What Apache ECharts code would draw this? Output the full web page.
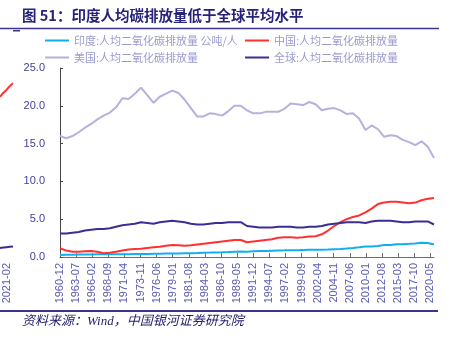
<!DOCTYPE html>
<html>
<head>
<meta charset="utf-8">
<script src="https://cdn.jsdelivr.net/npm/echarts@6/dist/echarts.min.js"></script>
<style>
html, body { margin: 0; padding: 0; background: #ffffff; }
#chart { width: 452px; height: 338px; }
</style>
</head>
<body>
<div id="chart"></div>
<script>
// Yearly per-capita CO2 emissions (tonnes per person), December of each year 1960-2020
const years = [];
for (let y = 1960; y <= 2020; y++) years.push(y);

const india = [0.27, 0.29, 0.31, 0.32, 0.32, 0.34, 0.35, 0.35, 0.37, 0.37,
  0.38, 0.38, 0.39, 0.39, 0.40, 0.42, 0.44, 0.45, 0.45, 0.47,
  0.49, 0.51, 0.53, 0.56, 0.58, 0.61, 0.63, 0.66, 0.70, 0.73,
  0.71, 0.75, 0.78, 0.79, 0.83, 0.87, 0.88, 0.90, 0.90, 0.94,
  0.95, 0.95, 0.96, 0.99, 1.03, 1.07, 1.13, 1.20, 1.28, 1.38,
  1.40, 1.46, 1.58, 1.60, 1.70, 1.70, 1.74, 1.80, 1.89, 1.86,
  1.65];

const china = [1.15, 0.85, 0.70, 0.70, 0.75, 0.80, 0.70, 0.50, 0.55, 0.70,
  0.85, 1.00, 1.05, 1.10, 1.20, 1.30, 1.35, 1.50, 1.60, 1.55,
  1.50, 1.55, 1.65, 1.75, 1.85, 1.95, 2.05, 2.15, 2.25, 2.25,
  1.95, 2.05, 2.15, 2.25, 2.35, 2.55, 2.60, 2.60, 2.55, 2.60,
  2.70, 2.75, 3.00, 3.50, 4.10, 4.60, 5.00, 5.30, 5.50, 5.90,
  6.40, 7.00, 7.20, 7.30, 7.30, 7.20, 7.10, 7.20, 7.50, 7.70,
  7.80];

const usa = [16.0, 15.7, 16.0, 16.5, 17.1, 17.6, 18.2, 18.7, 19.1, 19.8,
  21.0, 20.9, 21.6, 22.4, 21.4, 20.4, 21.2, 21.6, 22.0, 21.7,
  20.8, 19.7, 18.6, 18.6, 19.0, 18.9, 18.7, 19.3, 20.0, 20.0,
  19.4, 19.0, 19.0, 19.2, 19.2, 19.2, 19.6, 20.3, 20.2, 20.1,
  20.5, 20.2, 19.4, 19.6, 19.7, 19.4, 18.9, 19.0, 18.3, 16.8,
  17.4, 16.9, 15.9, 16.1, 16.0, 15.5, 15.2, 14.8, 15.3, 14.6,
  13.1];

const world = [3.1, 3.1, 3.2, 3.3, 3.5, 3.6, 3.7, 3.7, 3.8, 4.0,
  4.2, 4.3, 4.4, 4.6, 4.5, 4.4, 4.6, 4.7, 4.8, 4.7,
  4.6, 4.4, 4.3, 4.3, 4.4, 4.5, 4.5, 4.6, 4.6, 4.6,
  4.1, 4.0, 3.9, 3.9, 3.9, 4.0, 4.0, 4.0, 3.9, 3.9,
  4.0, 4.0, 4.1, 4.3, 4.4, 4.5, 4.6, 4.6, 4.6, 4.5,
  4.7, 4.8, 4.8, 4.8, 4.7, 4.6, 4.6, 4.7, 4.7, 4.7,
  4.3];

// Monthly category axis 1960-12 .. 2020-12, labelled every 31 months
const months = [];
for (let y = 1960, m = 12; y < 2020 || (y === 2020 && m <= 12); ) {
  months.push(y + '-' + (m < 10 ? '0' + m : m));
  m++;
  if (m > 12) { m = 1; y++; }
}

// Tail of the preceding panel, cut off at the left edge
const prevMonths = ['2020-12', '2021-01', '2021-02', '2021-03', '2021-04'];
const prevRed = [21.2, 21.7, 22.1, 22.6, 23.0];
const prevBlue = [1.20, 1.25, 1.30, 1.35, 1.40];

const names = {
  india: '印度:人均二氧化碳排放量 公吨/人',
  china: '中国:人均二氧化碳排放量',
  usa: '美国:人均二氧化碳排放量',
  world: '全球:人均二氧化碳排放量'
};

const pair = (arr) => years.map((y, i) => [y + '-12', arr[i]]);

const navy = '#3b348f';
const lineSeries = (name, data, color) => ({
  name: name, type: 'line', data: data, xAxisIndex: 0, yAxisIndex: 0,
  showSymbol: false, symbol: 'none', connectNulls: true,
  lineStyle: { color: color, width: 2 }, itemStyle: { color: color }
});

const legendBase = {
  orient: 'vertical', top: 29, itemWidth: 24, itemHeight: 2, itemGap: 4,
  icon: 'rect',
  textStyle: { fontSize: 11, color: '#9a9ad0', fontFamily: '"Noto Sans CJK SC", "Liberation Sans"', lineHeight: 13 }
};

const chart = echarts.init(document.getElementById('chart'), null, { renderer: 'canvas' });
chart.setOption({
  animation: false,
  backgroundColor: '#ffffff',
  title: {
    text: '图 51：印度人均碳排放量低于全球平均水平',
    left: 22, top: 8, padding: 0,
    textStyle: { fontSize: 14.5, fontWeight: 'bold', color: '#26237c', fontFamily: '"Noto Sans CJK SC"' }
  },
  legend: [
    Object.assign({}, legendBase, { left: 40, data: [names.india, names.usa] }),
    Object.assign({}, legendBase, { left: 240, data: [names.china, names.world] })
  ],
  grid: [
    { left: 60, top: 68, width: 374, height: 189 },
    { left: 0, top: 68, width: 13, height: 189 }
  ],
  xAxis: [
    {
      type: 'category', gridIndex: 0, data: months, boundaryGap: false,
      axisLine: { lineStyle: { color: '#6e6e6e', width: 1 } },
      axisTick: { inside: true, interval: 30, length: 4, lineStyle: { color: '#6e6e6e' } },
      axisLabel: { interval: 30, rotate: 90, fontSize: 11, margin: 6, color: '#5b5bb3', fontFamily: '"Liberation Sans"' },
      splitLine: { show: false }
    },
    {
      type: 'category', gridIndex: 1, data: prevMonths, boundaryGap: false,
      axisLine: { show: false }, axisTick: { show: false },
      axisLabel: {
        interval: (idx, val) => val === '2021-02',
        rotate: 90, fontSize: 11, margin: 6, color: '#5b5bb3', fontFamily: '"Liberation Sans"'
      }
    }
  ],
  yAxis: [
    {
      type: 'value', gridIndex: 0, min: 0, max: 25, interval: 5,
      axisLine: { show: true, lineStyle: { color: '#444444', width: 1 } },
      axisTick: { show: true, inside: true, length: 3, lineStyle: { color: '#444444' } },
      splitLine: { show: false },
      axisLabel: { formatter: (v) => v.toFixed(1), fontSize: 11, margin: 15, color: '#3f3f9a', fontFamily: '"Liberation Sans"' }
    },
    { type: 'value', gridIndex: 1, min: 0, max: 25, show: false }
  ],
  series: [
    lineSeries(names.india, pair(india), '#11aef0'),
    lineSeries(names.china, pair(china), '#ff3030'),
    lineSeries(names.usa, pair(usa), '#b5b1df'),
    lineSeries(names.world, pair(world), '#3a2e95'),
    {
      type: 'line', xAxisIndex: 1, yAxisIndex: 1, data: prevRed, showSymbol: false, symbol: 'none',
      lineStyle: { color: '#ff3030', width: 2 }, silent: true
    },
    {
      type: 'line', xAxisIndex: 1, yAxisIndex: 1, data: prevBlue, showSymbol: false, symbol: 'none',
      lineStyle: { color: '#3a2e95', width: 2 }, silent: true
    }
  ],
  graphic: [
    { type: 'line', shape: { x1: 0, y1: 28.5, x2: 439, y2: 28.5 }, style: { stroke: navy, lineWidth: 1.5 } },
    { type: 'rect', shape: { x: 13, y: 30, width: 7, height: 1.5 }, style: { fill: navy } },
    { type: 'line', shape: { x1: 0, y1: 311, x2: 438, y2: 311 }, style: { stroke: navy, lineWidth: 2 } },
    {
      type: 'text', left: 22, top: 315,
      style: {
        text: '资料来源：Wind，中国银河证券研究院',
        fontSize: 13, fontStyle: 'italic', fontFamily: '"Liberation Serif", "Noto Sans CJK SC"',
        fill: '#1f1f6b'
      }
    }
  ]
});
</script>
</body>
</html>
